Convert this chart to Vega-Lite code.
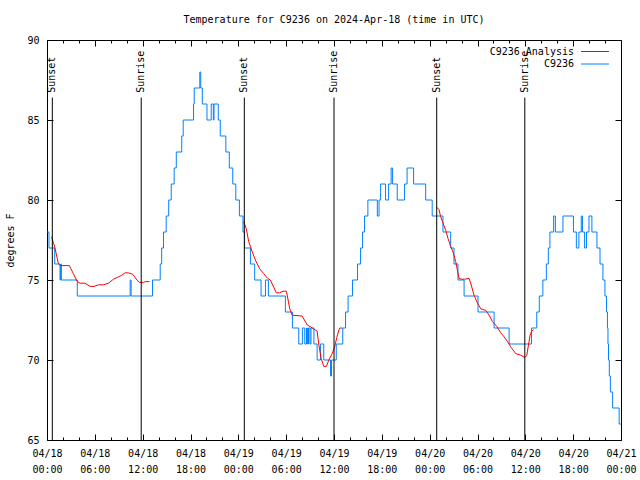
{
  "$schema": "https://vega.github.io/schema/vega-lite/v6.json",
  "width": 574,
  "height": 400,
  "autosize": {"type": "none"},
  "padding": {"left": 47, "top": 40, "right": 19, "bottom": 40},
  "background": "white",
  "title": {"text": "Temperature for C9236 on 2024-Apr-18 (time in UTC)", "font": "DejaVu Sans Mono", "fontSize": 10, "fontWeight": "normal", "anchor": "middle", "frame": "group", "offset": 10, "color": "black"},
  "config": {
    "view": {"stroke": "black", "strokeWidth": 1},
    "font": "DejaVu Sans Mono"
  },
  "datasets": {
    "obs": [
      {"t": "2024-04-18T00:00:00Z", "v": 78}, {"t": "2024-04-18T00:15:00Z", "v": 77}, {"t": "2024-04-18T00:58:00Z", "v": 76},
      {"t": "2024-04-18T01:38:00Z", "v": 75}, {"t": "2024-04-18T01:43:00Z", "v": 76}, {"t": "2024-04-18T01:48:00Z", "v": 75},
      {"t": "2024-04-18T03:48:00Z", "v": 74}, {"t": "2024-04-18T10:26:00Z", "v": 75}, {"t": "2024-04-18T10:33:00Z", "v": 74},
      {"t": "2024-04-18T13:14:00Z", "v": 75}, {"t": "2024-04-18T14:12:00Z", "v": 76}, {"t": "2024-04-18T14:23:00Z", "v": 77},
      {"t": "2024-04-18T14:37:00Z", "v": 78}, {"t": "2024-04-18T14:57:00Z", "v": 79}, {"t": "2024-04-18T15:16:00Z", "v": 80},
      {"t": "2024-04-18T15:35:00Z", "v": 81}, {"t": "2024-04-18T15:57:00Z", "v": 82}, {"t": "2024-04-18T16:13:00Z", "v": 83},
      {"t": "2024-04-18T16:54:00Z", "v": 84}, {"t": "2024-04-18T17:05:00Z", "v": 85}, {"t": "2024-04-18T18:23:00Z", "v": 86},
      {"t": "2024-04-18T18:28:00Z", "v": 87}, {"t": "2024-04-18T19:10:00Z", "v": 88}, {"t": "2024-04-18T19:17:00Z", "v": 87},
      {"t": "2024-04-18T19:29:00Z", "v": 86}, {"t": "2024-04-18T20:04:00Z", "v": 85}, {"t": "2024-04-18T20:36:00Z", "v": 86},
      {"t": "2024-04-18T20:52:00Z", "v": 85}, {"t": "2024-04-18T20:57:00Z", "v": 86}, {"t": "2024-04-18T21:29:00Z", "v": 85},
      {"t": "2024-04-18T21:44:00Z", "v": 84}, {"t": "2024-04-18T22:26:00Z", "v": 83}, {"t": "2024-04-18T22:52:00Z", "v": 82},
      {"t": "2024-04-18T23:18:00Z", "v": 81}, {"t": "2024-04-18T23:41:00Z", "v": 80},
      {"t": "2024-04-19T00:08:00Z", "v": 79}, {"t": "2024-04-19T00:35:00Z", "v": 78}, {"t": "2024-04-19T00:47:00Z", "v": 77},
      {"t": "2024-04-19T01:31:00Z", "v": 76}, {"t": "2024-04-19T02:03:00Z", "v": 75}, {"t": "2024-04-19T02:51:00Z", "v": 74},
      {"t": "2024-04-19T03:24:00Z", "v": 75}, {"t": "2024-04-19T03:46:00Z", "v": 74}, {"t": "2024-04-19T05:54:00Z", "v": 73},
      {"t": "2024-04-19T06:47:00Z", "v": 72}, {"t": "2024-04-19T07:35:00Z", "v": 71}, {"t": "2024-04-19T08:02:00Z", "v": 72},
      {"t": "2024-04-19T08:20:00Z", "v": 71}, {"t": "2024-04-19T08:33:00Z", "v": 72}, {"t": "2024-04-19T08:40:00Z", "v": 71},
      {"t": "2024-04-19T08:48:00Z", "v": 72}, {"t": "2024-04-19T08:59:00Z", "v": 71}, {"t": "2024-04-19T09:07:00Z", "v": 72},
      {"t": "2024-04-19T09:29:00Z", "v": 71}, {"t": "2024-04-19T09:53:00Z", "v": 70}, {"t": "2024-04-19T10:18:00Z", "v": 71},
      {"t": "2024-04-19T10:43:00Z", "v": 70}, {"t": "2024-04-19T11:34:00Z", "v": 69}, {"t": "2024-04-19T11:41:00Z", "v": 70},
      {"t": "2024-04-19T12:17:00Z", "v": 71}, {"t": "2024-04-19T13:06:00Z", "v": 72}, {"t": "2024-04-19T13:27:00Z", "v": 73},
      {"t": "2024-04-19T13:46:00Z", "v": 74}, {"t": "2024-04-19T14:19:00Z", "v": 75}, {"t": "2024-04-19T14:57:00Z", "v": 76},
      {"t": "2024-04-19T15:20:00Z", "v": 77}, {"t": "2024-04-19T15:35:00Z", "v": 78}, {"t": "2024-04-19T15:50:00Z", "v": 79},
      {"t": "2024-04-19T16:15:00Z", "v": 80}, {"t": "2024-04-19T17:26:00Z", "v": 79}, {"t": "2024-04-19T17:39:00Z", "v": 80},
      {"t": "2024-04-19T17:51:00Z", "v": 81}, {"t": "2024-04-19T18:28:00Z", "v": 80}, {"t": "2024-04-19T18:51:00Z", "v": 81},
      {"t": "2024-04-19T19:10:00Z", "v": 82}, {"t": "2024-04-19T19:21:00Z", "v": 81}, {"t": "2024-04-19T19:56:00Z", "v": 80},
      {"t": "2024-04-19T20:51:00Z", "v": 81}, {"t": "2024-04-19T21:10:00Z", "v": 82}, {"t": "2024-04-19T21:59:00Z", "v": 81},
      {"t": "2024-04-19T23:30:00Z", "v": 80},
      {"t": "2024-04-20T00:19:00Z", "v": 79}, {"t": "2024-04-20T01:40:00Z", "v": 78}, {"t": "2024-04-20T02:38:00Z", "v": 77},
      {"t": "2024-04-20T03:03:00Z", "v": 76}, {"t": "2024-04-20T03:33:00Z", "v": 75}, {"t": "2024-04-20T04:19:00Z", "v": 74},
      {"t": "2024-04-20T06:04:00Z", "v": 73}, {"t": "2024-04-20T08:05:00Z", "v": 72}, {"t": "2024-04-20T09:58:00Z", "v": 71},
      {"t": "2024-04-20T12:47:00Z", "v": 72}, {"t": "2024-04-20T13:26:00Z", "v": 73}, {"t": "2024-04-20T13:45:00Z", "v": 74},
      {"t": "2024-04-20T14:12:00Z", "v": 75}, {"t": "2024-04-20T14:38:00Z", "v": 76}, {"t": "2024-04-20T14:53:00Z", "v": 77},
      {"t": "2024-04-20T15:05:00Z", "v": 78}, {"t": "2024-04-20T15:33:00Z", "v": 79}, {"t": "2024-04-20T15:46:00Z", "v": 78},
      {"t": "2024-04-20T16:43:00Z", "v": 79}, {"t": "2024-04-20T18:02:00Z", "v": 78}, {"t": "2024-04-20T18:24:00Z", "v": 77},
      {"t": "2024-04-20T18:43:00Z", "v": 78}, {"t": "2024-04-20T19:01:00Z", "v": 79}, {"t": "2024-04-20T19:10:00Z", "v": 78},
      {"t": "2024-04-20T19:26:00Z", "v": 77}, {"t": "2024-04-20T19:40:00Z", "v": 78}, {"t": "2024-04-20T19:59:00Z", "v": 79},
      {"t": "2024-04-20T20:21:00Z", "v": 78}, {"t": "2024-04-20T20:59:00Z", "v": 77}, {"t": "2024-04-20T21:22:00Z", "v": 76},
      {"t": "2024-04-20T21:44:00Z", "v": 75}, {"t": "2024-04-20T21:59:00Z", "v": 74}, {"t": "2024-04-20T22:11:00Z", "v": 73},
      {"t": "2024-04-20T22:18:00Z", "v": 72}, {"t": "2024-04-20T22:22:00Z", "v": 71}, {"t": "2024-04-20T22:26:00Z", "v": 70},
      {"t": "2024-04-20T22:32:00Z", "v": 69}, {"t": "2024-04-20T22:40:00Z", "v": 68}, {"t": "2024-04-20T22:57:00Z", "v": 67},
      {"t": "2024-04-20T23:46:00Z", "v": 66}, {"t": "2024-04-20T23:59:00Z", "v": 66}
    ],
    "ana": [
      {"t": "2024-04-18T00:35:00Z", "v": 77.7, "seg": 1}, {"t": "2024-04-18T01:00:00Z", "v": 77.0, "seg": 1},
      {"t": "2024-04-18T01:13:00Z", "v": 76.5, "seg": 1}, {"t": "2024-04-18T01:25:00Z", "v": 76.05, "seg": 1},
      {"t": "2024-04-18T01:38:00Z", "v": 75.9, "seg": 1}, {"t": "2024-04-18T02:48:00Z", "v": 75.9, "seg": 1},
      {"t": "2024-04-18T03:18:00Z", "v": 75.4, "seg": 1}, {"t": "2024-04-18T03:48:00Z", "v": 74.9, "seg": 1},
      {"t": "2024-04-18T04:09:00Z", "v": 74.8, "seg": 1}, {"t": "2024-04-18T04:46:00Z", "v": 74.8, "seg": 1},
      {"t": "2024-04-18T05:24:00Z", "v": 74.6, "seg": 1}, {"t": "2024-04-18T05:54:00Z", "v": 74.6, "seg": 1},
      {"t": "2024-04-18T06:27:00Z", "v": 74.7, "seg": 1}, {"t": "2024-04-18T07:04:00Z", "v": 74.7, "seg": 1},
      {"t": "2024-04-18T07:42:00Z", "v": 74.8, "seg": 1}, {"t": "2024-04-18T08:20:00Z", "v": 75.05, "seg": 1},
      {"t": "2024-04-18T08:58:00Z", "v": 75.2, "seg": 1}, {"t": "2024-04-18T09:23:00Z", "v": 75.3, "seg": 1},
      {"t": "2024-04-18T09:48:00Z", "v": 75.45, "seg": 1}, {"t": "2024-04-18T10:13:00Z", "v": 75.45, "seg": 1},
      {"t": "2024-04-18T10:46:00Z", "v": 75.35, "seg": 1}, {"t": "2024-04-18T11:16:00Z", "v": 75.0, "seg": 1},
      {"t": "2024-04-18T11:36:00Z", "v": 74.85, "seg": 1}, {"t": "2024-04-18T12:06:00Z", "v": 74.85, "seg": 1},
      {"t": "2024-04-18T12:19:00Z", "v": 74.9, "seg": 1}, {"t": "2024-04-18T12:51:00Z", "v": 74.9, "seg": 1},
      {"t": "2024-04-19T00:40:00Z", "v": 78.65, "seg": 2}, {"t": "2024-04-19T01:00:00Z", "v": 78.2, "seg": 2},
      {"t": "2024-04-19T01:18:00Z", "v": 77.4, "seg": 2}, {"t": "2024-04-19T01:43:00Z", "v": 76.8, "seg": 2},
      {"t": "2024-04-19T02:08:00Z", "v": 76.25, "seg": 2}, {"t": "2024-04-19T02:41:00Z", "v": 75.7, "seg": 2},
      {"t": "2024-04-19T03:11:00Z", "v": 75.4, "seg": 2}, {"t": "2024-04-19T03:41:00Z", "v": 75.1, "seg": 2},
      {"t": "2024-04-19T04:01:00Z", "v": 75.0, "seg": 2}, {"t": "2024-04-19T04:46:00Z", "v": 74.2, "seg": 2},
      {"t": "2024-04-19T05:11:00Z", "v": 74.2, "seg": 2}, {"t": "2024-04-19T05:37:00Z", "v": 74.3, "seg": 2},
      {"t": "2024-04-19T06:02:00Z", "v": 74.3, "seg": 2}, {"t": "2024-04-19T06:27:00Z", "v": 73.2, "seg": 2},
      {"t": "2024-04-19T06:45:00Z", "v": 72.8, "seg": 2}, {"t": "2024-04-19T08:00:00Z", "v": 72.75, "seg": 2},
      {"t": "2024-04-19T08:38:00Z", "v": 72.2, "seg": 2}, {"t": "2024-04-19T09:16:00Z", "v": 72.0, "seg": 2},
      {"t": "2024-04-19T09:53:00Z", "v": 71.8, "seg": 2}, {"t": "2024-04-19T10:05:00Z", "v": 71.0, "seg": 2},
      {"t": "2024-04-19T10:23:00Z", "v": 70.1, "seg": 2}, {"t": "2024-04-19T10:43:00Z", "v": 69.6, "seg": 2},
      {"t": "2024-04-19T11:03:00Z", "v": 69.6, "seg": 2}, {"t": "2024-04-19T11:21:00Z", "v": 70.0, "seg": 2},
      {"t": "2024-04-19T11:46:00Z", "v": 70.4, "seg": 2}, {"t": "2024-04-19T12:04:00Z", "v": 70.8, "seg": 2},
      {"t": "2024-04-19T12:21:00Z", "v": 71.4, "seg": 2}, {"t": "2024-04-19T12:38:00Z", "v": 71.9, "seg": 2},
      {"t": "2024-04-19T12:44:00Z", "v": 72.0, "seg": 2}, {"t": "2024-04-19T13:02:00Z", "v": 72.0, "seg": 2},
      {"t": "2024-04-20T00:53:00Z", "v": 79.55, "seg": 3}, {"t": "2024-04-20T01:10:00Z", "v": 79.4, "seg": 3},
      {"t": "2024-04-20T01:23:00Z", "v": 78.95, "seg": 3}, {"t": "2024-04-20T01:43:00Z", "v": 78.5, "seg": 3},
      {"t": "2024-04-20T02:01:00Z", "v": 78.1, "seg": 3}, {"t": "2024-04-20T02:18:00Z", "v": 77.6, "seg": 3},
      {"t": "2024-04-20T02:38:00Z", "v": 77.1, "seg": 3}, {"t": "2024-04-20T02:58:00Z", "v": 76.7, "seg": 3},
      {"t": "2024-04-20T03:16:00Z", "v": 76.15, "seg": 3}, {"t": "2024-04-20T03:29:00Z", "v": 75.6, "seg": 3},
      {"t": "2024-04-20T03:41:00Z", "v": 75.1, "seg": 3}, {"t": "2024-04-20T03:59:00Z", "v": 75.05, "seg": 3},
      {"t": "2024-04-20T04:24:00Z", "v": 75.05, "seg": 3}, {"t": "2024-04-20T04:56:00Z", "v": 75.1, "seg": 3},
      {"t": "2024-04-20T05:09:00Z", "v": 74.8, "seg": 3}, {"t": "2024-04-20T05:34:00Z", "v": 74.05, "seg": 3},
      {"t": "2024-04-20T06:00:00Z", "v": 73.55, "seg": 3}, {"t": "2024-04-20T06:25:00Z", "v": 73.2, "seg": 3},
      {"t": "2024-04-20T07:02:00Z", "v": 73.1, "seg": 3}, {"t": "2024-04-20T07:27:00Z", "v": 72.8, "seg": 3},
      {"t": "2024-04-20T07:53:00Z", "v": 72.4, "seg": 3}, {"t": "2024-04-20T08:25:00Z", "v": 72.1, "seg": 3},
      {"t": "2024-04-20T08:55:00Z", "v": 71.7, "seg": 3}, {"t": "2024-04-20T09:20:00Z", "v": 71.45, "seg": 3},
      {"t": "2024-04-20T09:46:00Z", "v": 71.15, "seg": 3}, {"t": "2024-04-20T10:11:00Z", "v": 70.8, "seg": 3},
      {"t": "2024-04-20T10:48:00Z", "v": 70.4, "seg": 3}, {"t": "2024-04-20T11:26:00Z", "v": 70.3, "seg": 3},
      {"t": "2024-04-20T11:56:00Z", "v": 70.15, "seg": 3}, {"t": "2024-04-20T12:11:00Z", "v": 70.3, "seg": 3},
      {"t": "2024-04-20T12:21:00Z", "v": 70.8, "seg": 3}, {"t": "2024-04-20T12:36:00Z", "v": 71.55, "seg": 3},
      {"t": "2024-04-20T12:47:00Z", "v": 71.8, "seg": 3}, {"t": "2024-04-20T13:02:00Z", "v": 71.9, "seg": 3}
    ],
    "sun": [
      {"t": "2024-04-18T00:40:00Z", "label": "Sunset"},
      {"t": "2024-04-18T11:49:00Z", "label": "Sunrise"},
      {"t": "2024-04-19T00:45:00Z", "label": "Sunset"},
      {"t": "2024-04-19T12:00:00Z", "label": "Sunrise"},
      {"t": "2024-04-20T00:53:00Z", "label": "Sunset"},
      {"t": "2024-04-20T11:56:00Z", "label": "Sunrise"}
    ]
  },
  "layer": [
    {
      "data": {"name": "obs"},
      "mark": {"type": "line", "interpolate": "step-after", "strokeWidth": 1, "clip": true},
      "encoding": {
        "x": {
          "field": "t", "type": "temporal",
          "scale": {"type": "utc", "domain": [1713398400000, 1713657600000], "nice": false},
          "axis": {
            "orient": "bottom", "title": null, "grid": false, "domain": false,
            "values": [1713398400000, 1713405600000, 1713412800000, 1713420000000, 1713427200000, 1713434400000, 1713441600000, 1713448800000, 1713456000000, 1713463200000, 1713470400000, 1713477600000, 1713484800000, 1713492000000, 1713499200000, 1713506400000, 1713513600000, 1713520800000, 1713528000000, 1713535200000, 1713542400000, 1713549600000, 1713556800000, 1713564000000, 1713571200000, 1713578400000, 1713585600000, 1713592800000, 1713600000000, 1713607200000, 1713614400000, 1713621600000, 1713628800000, 1713636000000, 1713643200000, 1713650400000, 1713657600000],
            "labelExpr": "utchours(datum.value) % 6 == 0 ? [utcFormat(datum.value, '%m/%d'), utcFormat(datum.value, '%H:%M')] : ''",
            "tickSize": {"condition": {"test": "utchours(datum.value) % 6 == 0", "value": -6}, "value": -3},
            "tickColor": "black", "tickWidth": 1,
            "labelFlush": false, "labelOverlap": false, "labelPadding": 14, "labelLineHeight": 16,
            "labelBaseline": "top", "labelColor": "black", "labelFont": "DejaVu Sans Mono", "labelFontSize": 10
          }
        },
        "y": {
          "field": "v", "type": "quantitative",
          "scale": {"domain": [65, 90], "nice": false, "zero": false},
          "axis": {
            "orient": "left", "values": [65, 70, 75, 80, 85, 90], "grid": false, "domain": false,
            "tickSize": -6, "tickColor": "black", "labelPadding": 14,
            "labelColor": "black", "labelFont": "DejaVu Sans Mono", "labelFontSize": 10,
            "labelFlush": false, "labelOverlap": false,
            "title": "degrees F", "titleFont": "DejaVu Sans Mono", "titleFontSize": 10, "titleFontWeight": "normal",
            "titleColor": "black", "titleX": -37, "titleY": 200, "titleAngle": 270, "titleAlign": "center", "titleBaseline": "middle"
          }
        },
        "color": {
          "datum": "C9236", "type": "nominal",
          "scale": {"domain": ["C9236 Analysis", "C9236"], "range": ["#ff0000", "#0080ff"]},
          "legend": {
            "orient": "none", "legendX": 541.5, "legendY": 5, "title": null, "padding": 0,
            "symbolType": "M-2.33,0H2.33", "symbolSize": 144, "symbolStrokeWidth": 1, "rowPadding": 0.5,
            "labelAlign": "right", "labelOffset": -27.5, "labelFont": "DejaVu Sans Mono", "labelFontSize": 10, "labelColor": "black"
          }
        }
      }
    },
    {
      "data": {"name": "ana"},
      "mark": {"type": "line", "strokeWidth": 1, "clip": true},
      "encoding": {
        "x": {
          "field": "t", "type": "temporal",
          "axis": {
            "orient": "top", "title": null, "grid": false, "domain": false, "labels": false,
            "values": [1713398400000, 1713405600000, 1713412800000, 1713420000000, 1713427200000, 1713434400000, 1713441600000, 1713448800000, 1713456000000, 1713463200000, 1713470400000, 1713477600000, 1713484800000, 1713492000000, 1713499200000, 1713506400000, 1713513600000, 1713520800000, 1713528000000, 1713535200000, 1713542400000, 1713549600000, 1713556800000, 1713564000000, 1713571200000, 1713578400000, 1713585600000, 1713592800000, 1713600000000, 1713607200000, 1713614400000, 1713621600000, 1713628800000, 1713636000000, 1713643200000, 1713650400000, 1713657600000],
            "tickSize": {"condition": {"test": "utchours(datum.value) % 6 == 0", "value": -6}, "value": -3},
            "tickColor": "black", "tickWidth": 1
          }
        },
        "y": {
          "field": "v", "type": "quantitative",
          "axis": {"orient": "right", "values": [65, 70, 75, 80, 85, 90], "grid": false, "domain": false, "labels": false, "title": null, "tickSize": -6, "tickColor": "black"}
        },
        "detail": {"field": "seg", "type": "nominal"},
        "color": {"datum": "C9236 Analysis", "type": "nominal"}
      }
    },
    {
      "data": {"name": "sun"},
      "mark": {"type": "rule", "color": "black", "strokeWidth": 1},
      "encoding": {
        "x": {"field": "t", "type": "temporal", "axis": null},
        "y": {"datum": 65, "type": "quantitative", "axis": null},
        "y2": {"datum": 86.4}
      }
    },
    {
      "data": {"name": "sun"},
      "mark": {"type": "text", "angle": 270, "align": "left", "baseline": "middle", "font": "DejaVu Sans Mono", "fontSize": 10, "color": "black"},
      "encoding": {
        "x": {"field": "t", "type": "temporal", "axis": null},
        "y": {"datum": 86.7, "type": "quantitative", "axis": null},
        "text": {"field": "label"}
      }
    }
  ],
  "resolve": {"axis": {"x": "independent", "y": "independent"}}
}
